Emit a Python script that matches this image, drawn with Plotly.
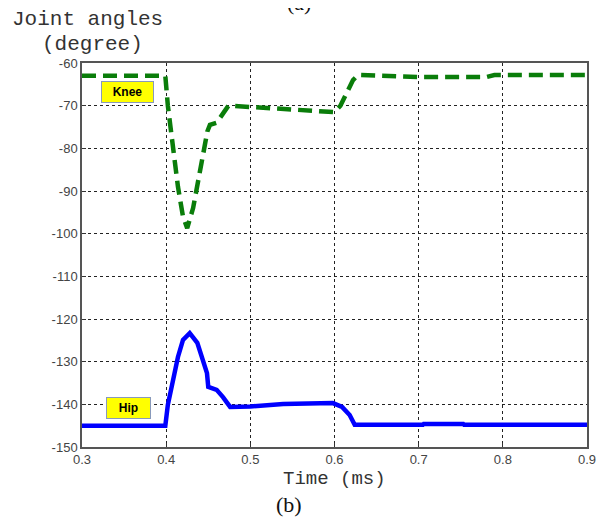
import plotly.graph_objects as go

# Knee joint angle (green dashed)
knee_t = [0.3, 0.399, 0.402, 0.408, 0.414, 0.420, 0.425, 0.432, 0.440, 0.449, 0.452,
          0.460, 0.474, 0.50, 0.54, 0.60, 0.607, 0.622, 0.628, 0.70, 0.78, 0.79, 0.9]
knee_deg = [-63, -63, -70, -80, -89, -96, -98.7, -94, -85.5, -76, -74.5,
            -74, -70, -70.3, -71, -71.5, -70, -64, -62.8, -63.3, -63.3, -62.8, -62.8]

# Hip joint angle (blue solid)
hip_t = [0.3, 0.399, 0.402, 0.408, 0.414, 0.420, 0.428, 0.437, 0.444, 0.4485, 0.450,
         0.460, 0.4675, 0.476, 0.50, 0.539, 0.598, 0.609, 0.618, 0.624, 0.705, 0.706,
         0.753, 0.754, 0.9]
hip_deg = [-145, -145, -140.1, -134.3, -128.9, -124.9, -123.3, -125.6, -129.6, -132.7, -135.9,
           -136.6, -138.3, -140.6, -140.5, -139.9, -139.7, -140.6, -142.5, -144.8, -144.8, -144.6,
           -144.6, -144.8, -144.8]

x_ticks = [0.3, 0.4, 0.5, 0.6, 0.7, 0.8, 0.9]
y_ticks = [-60, -70, -80, -90, -100, -110, -120, -130, -140, -150]

fig = go.Figure()
fig.add_trace(go.Scatter(x=knee_t, y=knee_deg, mode="lines",
                         line=dict(color="#0a7d0a", width=4.5, dash="14px,7px"),
                         showlegend=False))
fig.add_trace(go.Scatter(x=hip_t, y=hip_deg, mode="lines",
                         line=dict(color="#0000ff", width=4.5),
                         showlegend=False))

axis_common = dict(
    showline=True, linecolor="#555555", linewidth=1.5, mirror=True,
    ticks="inside", ticklen=4, tickcolor="#333333",
    showgrid=True, gridcolor="#222222", gridwidth=1, griddash="3px,3px",
    zeroline=False,
    tickfont=dict(family="Liberation Sans Narrow, Arial, sans-serif", size=13, color="#444444"),
)

fig.update_xaxes(range=[0.3, 0.9], tickvals=x_ticks,
                 ticktext=[f"{v:.1f}" for v in x_ticks], **axis_common)
fig.update_yaxes(range=[-150, -60], tickvals=y_ticks,
                 ticktext=[str(v) for v in y_ticks], **axis_common)

mono = "Liberation Mono, Courier New, monospace"
fig.add_annotation(text="Joint angles", xref="paper", yref="paper", x=-0.1426, y=1.112,
                   xanchor="left", yanchor="middle", showarrow=False,
                   font=dict(family=mono, size=21, color="#333333"))
fig.add_annotation(text="(degree)", xref="paper", yref="paper", x=-0.083, y=1.049,
                   xanchor="left", yanchor="middle", showarrow=False,
                   font=dict(family=mono, size=21, color="#333333"))
fig.add_annotation(text="Time (ms)", xref="paper", yref="paper", x=0.5, y=-0.083,
                   xanchor="center", yanchor="middle", showarrow=False,
                   font=dict(family=mono, size=19, color="#333333"))
fig.add_annotation(text="(b)", xref="paper", yref="paper", x=0.41, y=-0.151,
                   xanchor="center", yanchor="middle", showarrow=False,
                   font=dict(family="Liberation Serif, Times New Roman, serif", size=22, color="#111111"))
fig.add_annotation(text="(a)", xref="paper", yref="paper", x=0.43, y=1.12,
                   xanchor="center", yanchor="bottom", showarrow=False,
                   font=dict(family="Liberation Serif, Times New Roman, serif", size=22, color="#111111"))

label_font = dict(family="Liberation Sans, Arial, sans-serif", size=12, color="#000000")
fig.add_annotation(text="<b>Knee</b>", x=0.3535, y=-66.8, showarrow=False,
                   bgcolor="#ffff00", bordercolor="#8899bb", borderwidth=1, borderpad=3,
                   font=label_font, width=45)
fig.add_annotation(text="<b>Hip</b>", x=0.3547, y=-140.9, showarrow=False,
                   bgcolor="#ffff00", bordercolor="#8899bb", borderwidth=1, borderpad=3,
                   font=label_font, width=37)

# page body has an 8px default margin, so offset margins accordingly
fig.update_layout(width=607, height=520,
                  margin=dict(l=74, r=28, t=55, b=81),
                  paper_bgcolor="white", plot_bgcolor="white")

fig.write_html("out.html")
